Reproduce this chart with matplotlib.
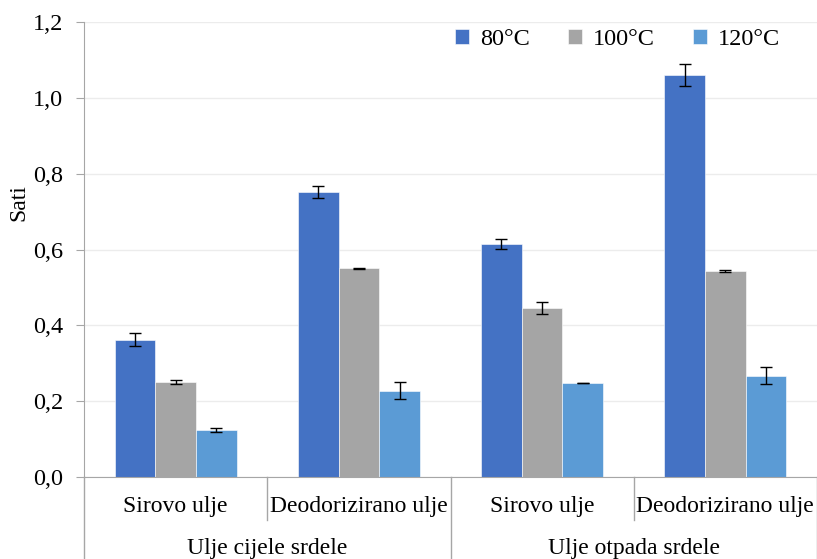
import matplotlib.pyplot as plt
import numpy as np

plt.rcParams['font.family'] = ['Liberation Serif', 'DejaVu Serif']

# podaci
kategorije = ['Sirovo ulje', 'Deodorizirano ulje', 'Sirovo ulje', 'Deodorizirano ulje']
grupe = ['Ulje cijele srdele', 'Ulje otpada srdele']
temperature = ['80°C', '100°C', '120°C']
v80 = [0.362, 0.751, 0.614, 1.060]
v100 = [0.251, 0.550, 0.445, 0.544]
v120 = [0.124, 0.228, 0.248, 0.267]
e80 = [0.017, 0.016, 0.013, 0.030]
e100 = [0.005, 0.002, 0.016, 0.003]
e120 = [0.004, 0.022, 0.001, 0.022]
yticks = [0.0, 0.2, 0.4, 0.6, 0.8, 1.0, 1.2]

boje = ['#4472C4', '#A5A5A5', '#5B9BD5']

fig = plt.figure(figsize=(8.17, 5.59), dpi=100)
ax = fig.add_axes([84/817, 1 - 477/559, 733/817, 455/559])

x = np.arange(len(kategorije))
w = 1 / 4.5
for i, (vals, errs) in enumerate(zip([v80, v100, v120], [e80, e100, e120])):
    ax.bar(x + (i - 1) * w, vals, w, color=boje[i], label=temperature[i],
           edgecolor='white', linewidth=0.4, zorder=2)
    ax.errorbar(x + (i - 1) * w, vals, yerr=errs, fmt='none', ecolor='black',
                elinewidth=1, capsize=4, capthick=1, zorder=3)

ax.set_xlim(-0.5, 3.5)
ax.set_ylim(0, 1.2)
ax.set_yticks(yticks)
ax.set_yticklabels([f'{t:.1f}'.replace('.', ',') for t in yticks], fontsize=17.5)
ax.yaxis.grid(True, color='#ececec', linewidth=1, zorder=0)
ax.set_axisbelow(True)
ax.set_xticks([])

for s in ['top', 'right']:
    ax.spines[s].set_visible(False)
ax.spines['left'].set_color('#a6a6a6')
ax.spines['bottom'].set_color('#a6a6a6')
ax.tick_params(axis='y', length=6, color='#a6a6a6', pad=9)

ax.set_ylabel('Sati', fontsize=17)
ax.yaxis.set_label_coords(-0.075, 0.603)

# kategorije i grupe ispod osi
tr = ax.get_xaxis_transform()
for i, k in enumerate(kategorije):
    ax.text(i, -0.064, k, transform=tr, ha='center', va='center', fontsize=17)
for j, g in enumerate(grupe):
    ax.text(2 * j + 0.5, -0.158, g, transform=tr, ha='center', va='center', fontsize=17)
for xs in [-0.5, 1.5, 3.5]:
    ax.plot([xs, xs], [0, -0.3], transform=tr, color='#a6a6a6', lw=1, clip_on=False)
for xs in [0.5, 2.5]:
    ax.plot([xs, xs], [0, -0.095], transform=tr, color='#a6a6a6', lw=1, clip_on=False)

ax.legend(loc='center', bbox_to_anchor=(0.728, 0.962), ncol=3, frameon=False,
          fontsize=17.5, handlelength=0.55, handleheight=0.55, columnspacing=1.6,
          handletextpad=0.45)

fig.savefig('out.png', dpi=100)
